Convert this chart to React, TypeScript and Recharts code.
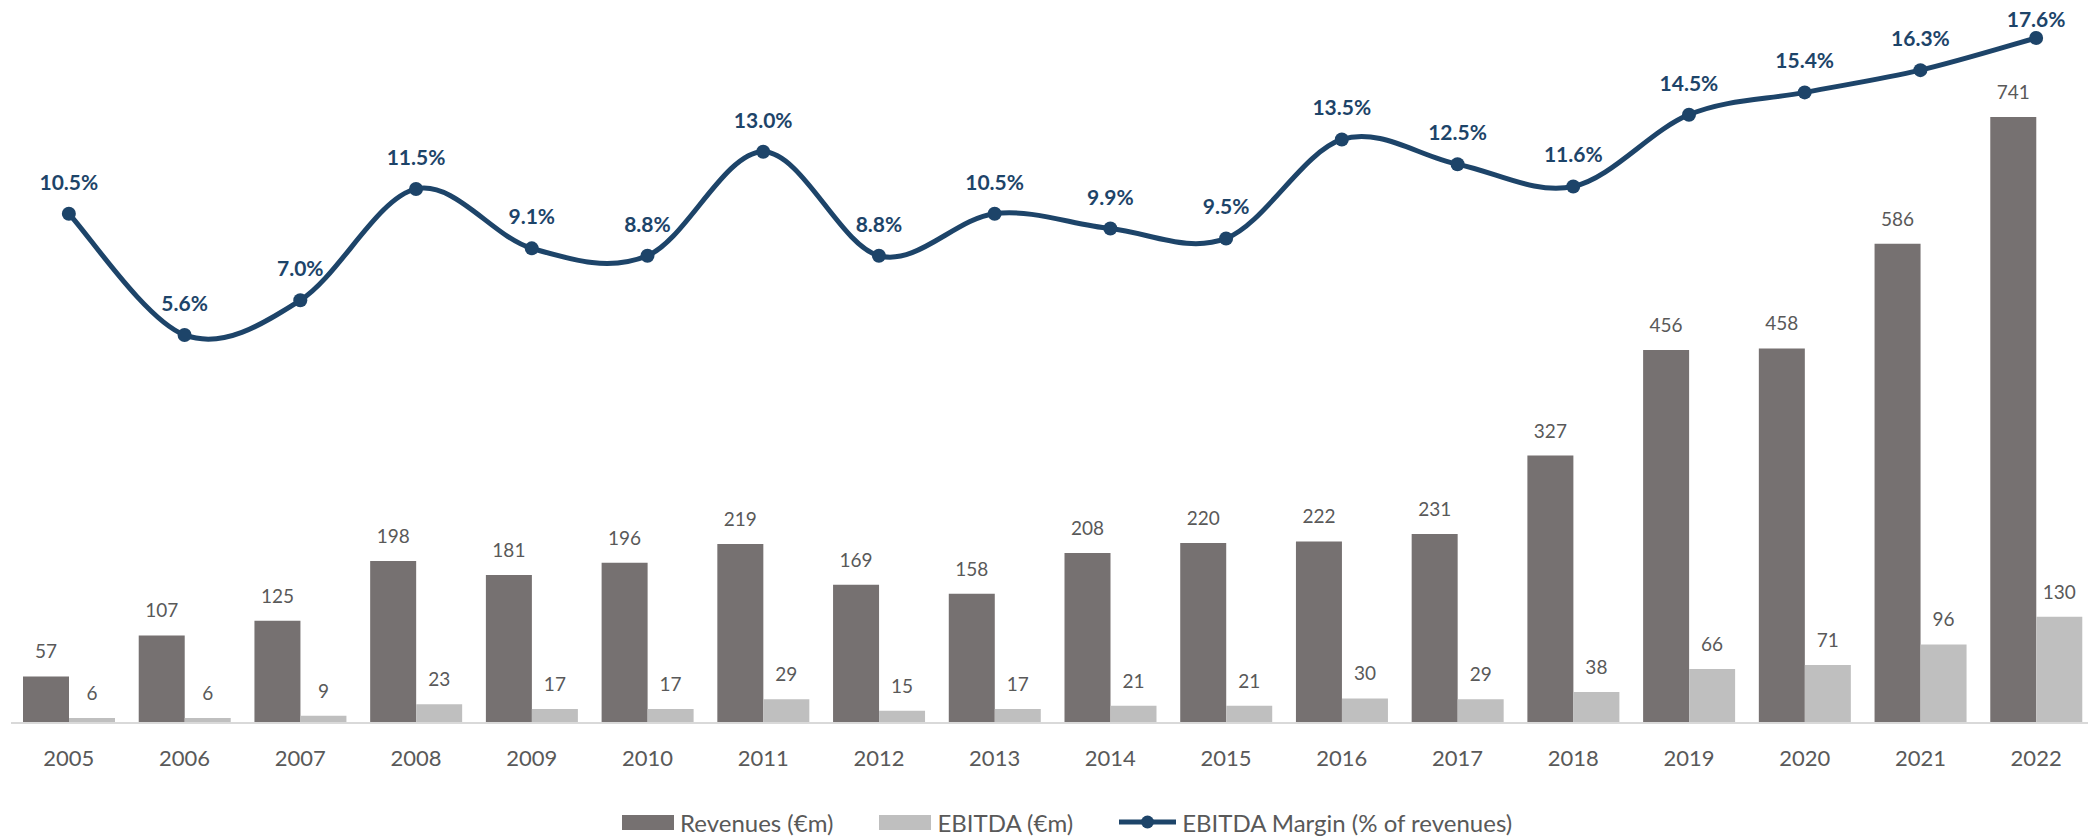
import { ComposedChart, Bar, Line, XAxis, YAxis, LabelList } from "recharts";

const years = ["2005", "2006", "2007", "2008", "2009", "2010", "2011", "2012", "2013", "2014", "2015", "2016", "2017", "2018", "2019", "2020", "2021", "2022"];
const revenues = [57, 107, 125, 198, 181, 196, 219, 169, 158, 208, 220, 222, 231, 327, 456, 458, 586, 741];
const ebitda = [6, 6, 9, 23, 17, 17, 29, 15, 17, 21, 21, 30, 29, 38, 66, 71, 96, 130];
const margin = [10.5, 5.6, 7.0, 11.5, 9.1, 8.8, 13.0, 8.8, 10.5, 9.9, 9.5, 13.5, 12.5, 11.6, 14.5, 15.4, 16.3, 17.6];

const REV_COLOR = "#767171";
const EBITDA_COLOR = "#BFBFBF";
const LINE_COLOR = "#1D4469";
const TEXT_COLOR = "#595959";
const FONT = "Lato, 'Open Sans', sans-serif";

// smoothed line like excel's (catmull-rom style bezier)
const excelSmooth = (context: any) => {
    let pts: number[][] = [];
    return {
        areaStart() {},
        areaEnd() {},
        lineStart() {
            pts = [];
        },
        point(x: number, y: number) {
            pts.push([+x, +y]);
        },
        lineEnd() {
            const n = pts.length;
            if (!n) return;
            context.moveTo(pts[0][0], pts[0][1]);
            for (let i = 0; i < n - 1; i++) {
                const p0 = pts[Math.max(i - 1, 0)];
                const p1 = pts[i];
                const p2 = pts[i + 1];
                const p3 = pts[Math.min(i + 2, n - 1)];
                context.bezierCurveTo(
                    p1[0] + (p2[0] - p0[0]) / 6, p1[1] + (p2[1] - p0[1]) / 6,
                    p2[0] - (p3[0] - p1[0]) / 6, p2[1] - (p3[1] - p1[1]) / 6,
                    p2[0], p2[1]
                );
            }
        },
    };
};

const data = years.map((year, i) => ({
    year,
    revenues: revenues[i],
    ebitda: ebitda[i],
    margin: margin[i],
}));

// percent label above the point, kept inside the top edge like excel does
const MarginLabel = (props: any) => {
    const { x, y, value } = props;
    const baseline = Math.max(y - 24, 27);
    return (
        <text x={x} y={baseline} textAnchor="middle" fill={LINE_COLOR} fontSize={21} fontWeight="bold" fontFamily={FONT}>
            {`${Number(value).toFixed(1)}%`}
        </text>
    );
};

const LegendItem = ({ label, icon }: { label: string; icon: React.ReactNode }) => (
    <div style={{ display: "flex", alignItems: "center", marginRight: 46 }}>
        {icon}
        <span style={{ marginLeft: 6 }}>{label}</span>
    </div>
);

const App = () => {
    return (
        <div style={{ position: "absolute", left: 0, top: 0, width: 2088, height: 837, overflow: "hidden", background: "#fff", fontFamily: FONT }}>
            <ComposedChart
                width={2100}
                height={837}
                data={data}
                margin={{ top: 10, right: 6, left: 11, bottom: 74 }}
                barGap={0}
            >
                <XAxis
                    dataKey="year"
                    height={40}
                    tickLine={false}
                    tickSize={0}
                    tickMargin={27}
                    axisLine={{ stroke: "#D9D9D9", strokeWidth: 2 }}
                    tick={{ fill: TEXT_COLOR, fontSize: 22, fontFamily: FONT }}
                    interval={0}
                />
                <YAxis yAxisId="eur" hide domain={[0, 871.8]} />
                <YAxis yAxisId="pct" hide orientation="right" domain={[-10.08, 18.73]} />
                <Bar yAxisId="eur" dataKey="revenues" fill={REV_COLOR} barSize={46} isAnimationActive={false}>
                    <LabelList dataKey="revenues" position="top" offset={18} fill={TEXT_COLOR} fontSize={19} fontFamily={FONT} />
                </Bar>
                <Bar yAxisId="eur" dataKey="ebitda" fill={EBITDA_COLOR} barSize={46} isAnimationActive={false}>
                    <LabelList dataKey="ebitda" position="top" offset={18} fill={TEXT_COLOR} fontSize={19} fontFamily={FONT} />
                </Bar>
                <Line
                    yAxisId="pct"
                    dataKey="margin"
                    type={excelSmooth as any}
                    stroke={LINE_COLOR}
                    strokeWidth={5}
                    dot={{ r: 7, fill: LINE_COLOR, stroke: LINE_COLOR, strokeWidth: 0 }}
                    activeDot={false}
                    isAnimationActive={false}
                >
                    <LabelList dataKey="margin" content={<MarginLabel />} />
                </Line>
            </ComposedChart>
            <div style={{ position: "absolute", left: 622, top: 806, height: 32, display: "flex", alignItems: "center", fontSize: 24, color: TEXT_COLOR }}>
                <LegendItem label="Revenues (€m)" icon={<div style={{ width: 52, height: 15, background: REV_COLOR }} />} />
                <LegendItem label="EBITDA (€m)" icon={<div style={{ width: 52, height: 15, background: EBITDA_COLOR }} />} />
                <LegendItem
                    label="EBITDA Margin (% of revenues)"
                    icon={
                        <svg width={57} height={16}>
                            <line x1={0} y1={8} x2={57} y2={8} stroke={LINE_COLOR} strokeWidth={5} />
                            <circle cx={28.5} cy={8} r={6.5} fill={LINE_COLOR} />
                        </svg>
                    }
                />
            </div>
        </div>
    );
};

export default App;
